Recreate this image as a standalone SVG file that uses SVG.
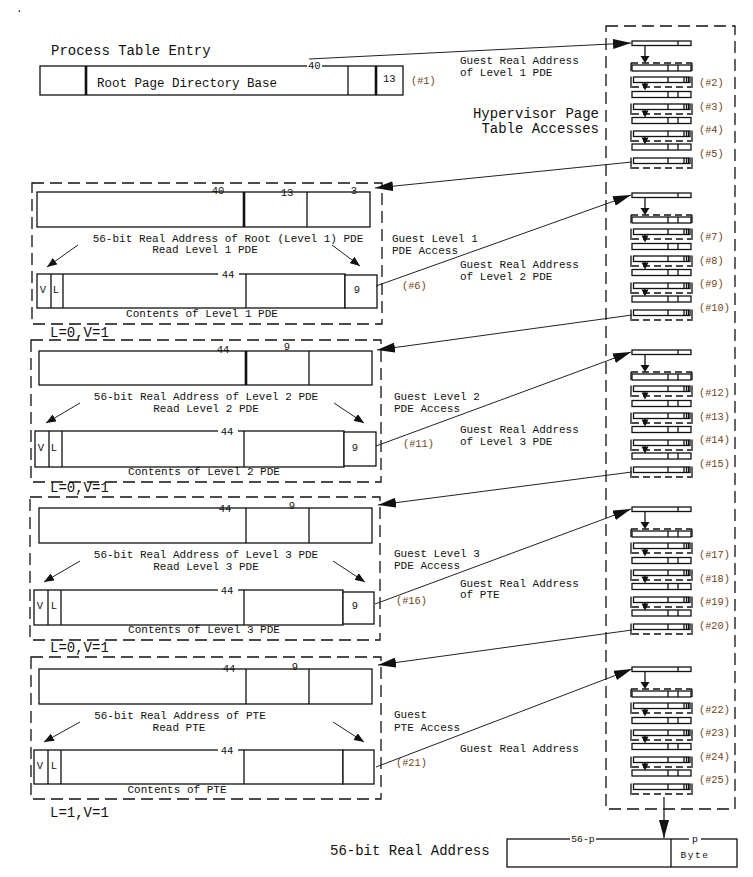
<svg xmlns="http://www.w3.org/2000/svg" xmlns:xlink="http://www.w3.org/1999/xlink" width="753" height="877" viewBox="0 0 753 877">
<style>
.bx{fill:#fff;stroke:#111;stroke-width:1.3}
.ln{stroke:#111;stroke-width:1.3;fill:none}
.tk{stroke:#111;stroke-width:2.6}
.dash{fill:none;stroke:#111;stroke-width:1.3;stroke-dasharray:12 6}
.md{fill:none;stroke:#111;stroke-width:1.3;stroke-dasharray:7 4}
.t{font-family:"Liberation Mono","DejaVu Sans Mono",monospace;fill:#111;font-size:11px}
.big{font-size:14px}
.sm{font-size:10.5px}
.num{font-family:"Liberation Mono","DejaVu Sans Mono",monospace;fill:#6e4420;font-size:10.3px}
.c{stroke:#222;stroke-width:1;fill:none}
.ca{stroke:#222;stroke-width:1;fill:none;marker-end:url(#ah)}
.cs{stroke:#222;stroke-width:1;fill:none;marker-end:url(#as)}
.mid{text-anchor:middle}
.end{text-anchor:end}
</style>
<defs>
<marker id="ah" markerUnits="userSpaceOnUse" markerWidth="18" markerHeight="10" refX="18" refY="5" orient="auto"><path d="M0,0 L18,5 L0,10 z" fill="#111"/></marker>
<marker id="as" markerUnits="userSpaceOnUse" markerWidth="10" markerHeight="8" refX="10" refY="4" orient="auto"><path d="M0,0 L10,4 L0,8 z" fill="#111"/></marker>
<g id="hv">
<rect class="bx" x="0" y="0" width="59" height="4.5"/>
<line class="ln" x1="46" y1="0" x2="46" y2="4.5"/>
<line class="ln" x1="13" y1="4.5" x2="13" y2="16"/>
<polygon points="8.5,15 17.5,15 13,22" fill="#111"/>
<line class="md" x1="-1" y1="22" x2="60" y2="22"/>
<path class="ln" d="M-1,22 V30 M60,22 V30"/>
<g id="hvb"><rect class="bx" x="0" y="24" width="59" height="6"/><path class="ln" d="M36,24 V30 M46,24 V30"/></g>
<use xlink:href="#hvb" y="26.5"/>
<use xlink:href="#hvb" y="52.5"/>
<use xlink:href="#hvb" y="79"/>
<g id="hvt">
<rect class="bx" x="1.5" y="36" width="56.5" height="5.5"/>
<path class="ln" d="M36,36 V41.5 M52,36 V41.5 M54.5,36 V41.5 M56.5,36 V41.5"/>
<path class="ln" d="M-1,35.5 V47 M60,35.5 V47"/>
<line class="md" x1="0" y1="46" x2="59" y2="46"/>
</g>
<use xlink:href="#hvt" y="27"/>
<use xlink:href="#hvt" y="54"/>
<use xlink:href="#hvt" y="81"/>
<g id="hva"><line class="ln" x1="13" y1="41.5" x2="13" y2="44"/><polygon points="9.5,42.5 16.5,42.5 13,49.5" fill="#111"/></g>
<use xlink:href="#hva" y="27"/>
<use xlink:href="#hva" y="54"/>
</g>
</defs>
<rect width="753" height="877" fill="#fff"/>
<text class="t" x="16" y="12">.</text>

<g id="process-table-entry">
<text class="t big" x="51" y="55">Process Table Entry</text>
<rect class="bx" x="40" y="66" width="363" height="29"/>
<line class="tk" x1="86" y1="66" x2="86" y2="95"/>
<line class="ln" x1="348" y1="66" x2="348" y2="95"/>
<line class="tk" x1="376" y1="66" x2="376" y2="95"/>
<rect x="307" y="62" width="15" height="8" fill="#fff"/>
<text class="t sm" x="308" y="69">40</text>
<text class="t" x="97" y="87" style="font-size:12.5px">Root Page Directory Base</text>
<text class="t sm" x="383" y="82">13</text>
<text class="num" x="411" y="84">(#1)</text>
</g>

<g id="hypervisor">
<rect class="dash" x="606" y="26" width="129" height="783"/>
<text class="t big end" x="599" y="118">Hypervisor Page</text>
<text class="t big end" x="599" y="133">Table Accesses</text>
</g>

<g id="hv1"><use xlink:href="#hv" x="632" y="41"/>
<text class="num" x="699" y="86">(#2)</text><text class="num" x="699" y="110">(#3)</text><text class="num" x="699" y="133">(#4)</text><text class="num" x="699" y="157">(#5)</text></g>
<g id="hv2"><use xlink:href="#hv" x="632" y="193"/>
<text class="num" x="699" y="240">(#7)</text><text class="num" x="699" y="264">(#8)</text><text class="num" x="699" y="287">(#9)</text><text class="num" x="699" y="311">(#10)</text></g>
<g id="hv3"><use xlink:href="#hv" x="632" y="350"/>
<text class="num" x="699" y="396">(#12)</text><text class="num" x="699" y="420">(#13)</text><text class="num" x="699" y="443">(#14)</text><text class="num" x="699" y="467">(#15)</text></g>
<g id="hv4"><use xlink:href="#hv" x="632" y="507"/>
<text class="num" x="699" y="558">(#17)</text><text class="num" x="699" y="582">(#18)</text><text class="num" x="699" y="605">(#19)</text><text class="num" x="699" y="629">(#20)</text></g>
<g id="hv5"><use xlink:href="#hv" x="632" y="667"/>
<text class="num" x="699" y="713">(#22)</text><text class="num" x="699" y="736">(#23)</text><text class="num" x="699" y="760">(#24)</text><text class="num" x="699" y="783">(#25)</text></g>

<g id="level1">
<rect class="dash" x="32" y="183" width="350" height="141"/>
<rect class="bx" x="37" y="192" width="333" height="35"/>
<line class="tk" x1="244" y1="192" x2="244" y2="227"/>
<line class="ln" x1="307" y1="192" x2="307" y2="227"/>
<text class="t sm mid" x="218" y="194">40</text>
<text class="t sm mid" x="287" y="196">13</text>
<text class="t sm mid" x="354" y="194">3</text>
<text class="t mid" x="228" y="242">56-bit Real Address of Root (Level 1) PDE</text>
<text class="t mid" x="205" y="253">Read Level 1 PDE</text>
<rect class="bx" x="37" y="274" width="308" height="34"/>
<rect class="bx" x="345" y="275" width="32" height="33"/>
<path class="ln" d="M51,274 V308 M63,274 V308 M246,274 V308"/>
<rect x="218" y="270" width="21" height="8" fill="#fff"/>
<text class="t sm mid" x="228" y="278">44</text>
<text class="t sm mid" x="43" y="293">V</text>
<text class="t sm mid" x="56" y="293">L</text>
<text class="t sm mid" x="357" y="293">9</text>
<text class="t mid" x="202" y="317">Contents of Level 1 PDE</text>
<line class="cs" x1="78" y1="245" x2="47" y2="267"/>
<line class="cs" x1="332" y1="245" x2="360" y2="266"/>
</g>
<text class="t big" x="50" y="337">L=0,V=1</text>

<g id="level2">
<rect class="dash" x="31" y="340" width="350" height="142"/>
<rect class="bx" x="39" y="351" width="333" height="34"/>
<line class="tk" x1="246" y1="351" x2="246" y2="385"/>
<line class="ln" x1="309" y1="351" x2="309" y2="385"/>
<text class="t sm mid" x="223" y="353">44</text>
<text class="t sm mid" x="287" y="350">9</text>
<text class="t mid" x="206" y="400">56-bit Real Address of Level 2 PDE</text>
<text class="t mid" x="206" y="412">Read Level 2 PDE</text>
<rect class="bx" x="35" y="431" width="309" height="36"/>
<rect class="bx" x="344" y="432" width="32" height="34"/>
<path class="ln" d="M49,431 V467 M62,431 V467 M244,431 V467"/>
<rect x="218" y="427" width="20" height="8" fill="#fff"/>
<text class="t sm mid" x="227" y="435">44</text>
<text class="t sm mid" x="41" y="451">V</text>
<text class="t sm mid" x="54" y="451">L</text>
<text class="t sm mid" x="355" y="451">9</text>
<text class="t mid" x="204" y="475">Contents of Level 2 PDE</text>
<line class="cs" x1="80" y1="403" x2="46" y2="423"/>
<line class="cs" x1="334" y1="403" x2="364" y2="423"/>
</g>
<text class="t big" x="50" y="492">L=0,V=1</text>

<g id="level3">
<rect class="dash" x="30" y="497" width="350" height="143"/>
<rect class="bx" x="39" y="508" width="333" height="35"/>
<line class="ln" x1="246" y1="508" x2="246" y2="543"/>
<line class="ln" x1="309" y1="508" x2="309" y2="543"/>
<text class="t sm mid" x="225" y="512">44</text>
<text class="t sm mid" x="292" y="509">9</text>
<text class="t mid" x="206" y="558">56-bit Real Address of Level 3 PDE</text>
<text class="t mid" x="206" y="570">Read Level 3 PDE</text>
<rect class="bx" x="34" y="590" width="309" height="35"/>
<rect class="bx" x="343" y="592" width="31" height="32"/>
<path class="ln" d="M48,590 V625 M61,590 V625 M244,590 V625"/>
<rect x="218" y="586" width="20" height="8" fill="#fff"/>
<text class="t sm mid" x="227" y="594">44</text>
<text class="t sm mid" x="40" y="609">V</text>
<text class="t sm mid" x="54" y="609">L</text>
<text class="t sm mid" x="355" y="609">9</text>
<text class="t mid" x="204" y="633">Contents of Level 3 PDE</text>
<line class="cs" x1="80" y1="561" x2="44" y2="582"/>
<line class="cs" x1="333" y1="561" x2="365" y2="582"/>
</g>
<text class="t big" x="50" y="652">L=0,V=1</text>

<g id="pte">
<rect class="dash" x="31" y="657" width="350" height="142"/>
<rect class="bx" x="39" y="669" width="333" height="35"/>
<line class="ln" x1="246" y1="669" x2="246" y2="704"/>
<line class="ln" x1="309" y1="669" x2="309" y2="704"/>
<text class="t sm mid" x="229" y="672">44</text>
<text class="t sm mid" x="295" y="670">9</text>
<text class="t mid" x="180" y="719">56-bit Real Address of PTE</text>
<text class="t mid" x="179" y="731">Read PTE</text>
<rect class="bx" x="34" y="750" width="309" height="34"/>
<rect class="bx" x="343" y="750" width="31" height="34"/>
<path class="ln" d="M48,750 V784 M61,750 V784 M244,750 V784"/>
<rect x="218" y="746" width="20" height="8" fill="#fff"/>
<text class="t sm mid" x="227" y="754">44</text>
<text class="t sm mid" x="40" y="769">V</text>
<text class="t sm mid" x="54" y="769">L</text>
<text class="t mid" x="177" y="793">Contents of PTE</text>
<line class="cs" x1="80" y1="722" x2="44" y2="742"/>
<line class="cs" x1="333" y1="722" x2="364" y2="742"/>
</g>
<text class="t big" x="50" y="817">L=1,V=1</text>

<g id="real-address">
<text class="t big" x="330" y="855">56-bit Real Address</text>
<rect class="bx" x="507" y="839" width="230" height="28"/>
<line class="ln" x1="671" y1="839" x2="671" y2="867"/>
<rect x="570" y="834" width="26" height="8" fill="#fff"/>
<text class="t mid" x="583" y="842" style="font-size:9.8px">56-p</text>
<rect x="689" y="834" width="12" height="8" fill="#fff"/>
<text class="t mid" x="695" y="842" style="font-size:9.8px">p</text>
<text class="t mid" x="695" y="858" style="font-size:9.5px;letter-spacing:1.5px">Byte</text>
</g>

<g id="labels">
<text class="t" x="460" y="64">Guest Real Address</text>
<text class="t" x="460" y="76">of Level 1 PDE</text>
<text class="t" x="392" y="242">Guest Level 1</text>
<text class="t" x="392" y="254">PDE Access</text>
<text class="t" x="460" y="268">Guest Real Address</text>
<text class="t" x="460" y="280">of Level 2 PDE</text>
<text class="num" x="402" y="289">(#6)</text>
<text class="t" x="394" y="400">Guest Level 2</text>
<text class="t" x="394" y="412">PDE Access</text>
<text class="t" x="460" y="433">Guest Real Address</text>
<text class="t" x="460" y="445">of Level 3 PDE</text>
<text class="num" x="403" y="447">(#11)</text>
<text class="t" x="394" y="557">Guest Level 3</text>
<text class="t" x="394" y="569">PDE Access</text>
<text class="t" x="460" y="587">Guest Real Address</text>
<text class="t" x="460" y="598">of PTE</text>
<text class="num" x="396" y="604">(#16)</text>
<text class="t" x="394" y="718">Guest</text>
<text class="t" x="394" y="731">PTE Access</text>
<text class="t" x="460" y="752">Guest Real Address</text>
<text class="num" x="396" y="766">(#21)</text>
</g>

<g id="connectors">
<line class="ca" x1="309" y1="59" x2="631" y2="43"/>
<line class="ca" x1="632" y1="162" x2="375" y2="188"/>
<line class="ca" x1="376" y1="286" x2="631" y2="195"/>
<line class="ca" x1="632" y1="315" x2="377" y2="350"/>
<line class="ca" x1="376" y1="446" x2="631" y2="352"/>
<line class="ca" x1="632" y1="472" x2="378" y2="505"/>
<line class="ca" x1="375" y1="604" x2="631" y2="509"/>
<line class="ca" x1="632" y1="630" x2="378" y2="665"/>
<line class="ca" x1="376" y1="767" x2="632" y2="669"/>
<line class="ca" x1="664" y1="797" x2="664" y2="838" style="stroke-width:1.3"/>
</g>
</svg>
